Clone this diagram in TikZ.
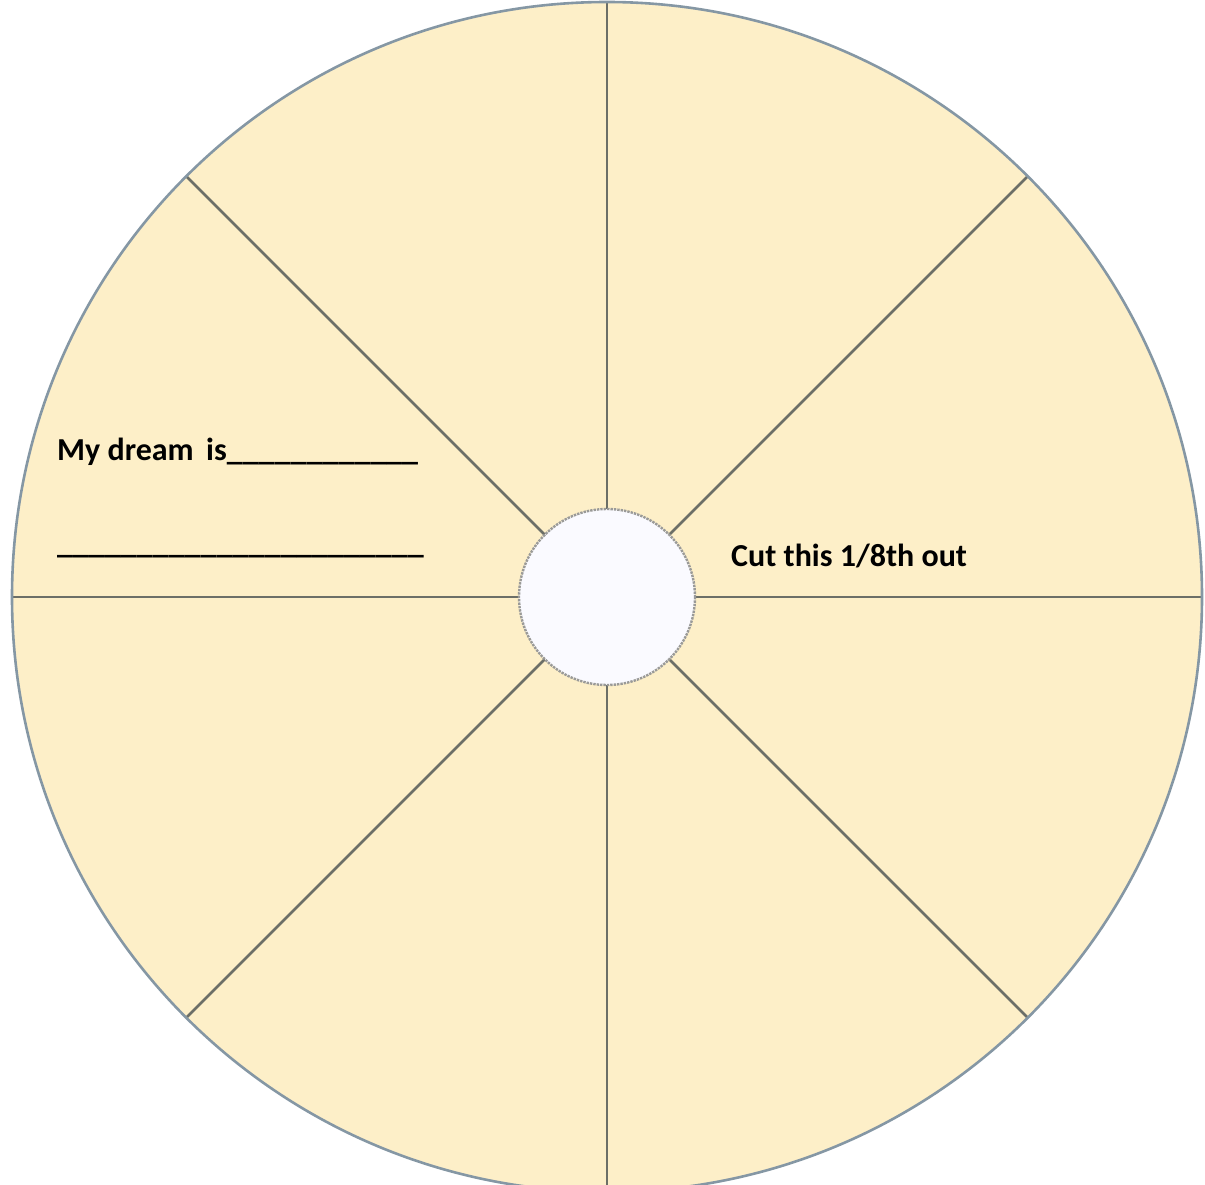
\documentclass[tikz,border=0pt]{standalone}
\usepackage{fontspec}
\setmainfont{Carlito}
\usepackage{tikz}
\usetikzlibrary{positioning,calc}
\definecolor{wheelfill}{HTML}{FDEFC8}
\definecolor{rimline}{HTML}{8597A4}
\definecolor{spoke}{HTML}{6C6F67}
\definecolor{hubline}{HTML}{9A9A98}

\begin{document}
\begin{tikzpicture}[x=1pt,y=-1pt,
      label/.style={font=\fontsize{32}{38}\selectfont\bfseries,inner sep=0pt,anchor=base west}]
    \useasboundingbox (0,0) rectangle (1205,1185);
    \coordinate (c) at (607,597);
    \fill[wheelfill] (c) circle (595);
    \foreach \a in {0,45,...,315}
      \draw[spoke,line width=2.6pt] ($(c)+(\a:88)$) -- ($(c)+(\a:595)$);
    \draw[rimline,line width=2.6pt] (c) circle (595);
    \filldraw[fill=white!98!blue,draw=hubline,line width=2.4pt,densely dotted] (c) circle (88);
    \node[label] (dream) at (57,460) {My dream\, is\_\_\_\_\_\_\_\_\_\_\_\_};
    \node[label] (blank) at (57,553) {\_\_\_\_\_\_\_\_\_\_\_\_\_\_\_\_\_\_\_\_\_\_\_};
    \node[label] (cut) at (731,566) {Cut this 1/8th out};
  \end{tikzpicture}
\end{document}
